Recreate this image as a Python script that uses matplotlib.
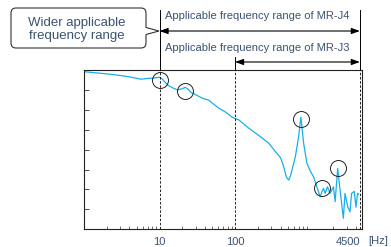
import numpy as np
import matplotlib
matplotlib.use("Agg")
import matplotlib.pyplot as plt
from matplotlib.path import Path
import matplotlib.patches as mpatches
import matplotlib.transforms as mtrans

# frequency response curve
freq = [1, 2, 3, 4, 5.7, 7, 8.5, 10, 11, 12.8, 15, 17.4, 20, 22, 24, 26, 30, 37, 45, 52, 61.6,
        75, 92, 113, 153, 210, 280, 343, 400, 441, 480, 514, 545, 568, 629, 695, 745, 809,
        894, 1000, 1094, 1210, 1342, 1420, 1483, 1561, 1674, 1816, 2008, 2115, 2288, 2459,
        2718, 2862, 3098, 3329, 3494, 3790, 3993, 4190, 4300]
gain = [7.94, 7.83, 7.75, 7.68, 7.56, 7.6, 7.62, 7.66, 7.55, 7.27, 7.12, 7.02, 7.08, 7.15, 7.05,
        6.9, 6.78, 6.6, 6.5, 6.3, 6.09, 5.9, 5.64, 5.5, 5.08, 4.7, 4.33, 3.9, 3.6, 3.15, 2.6,
        2.47, 2.7, 2.98, 3.65, 4.66, 5.64, 4.34, 3.32, 2.9, 2.64, 2.13, 1.63, 1.9, 2.05, 1.8,
        2.13, 1.8, 2.13, 1.38, 3.06, 1.97, 0.54, 1.8, 1.13, 0.87, 1.8, 1.9, 1.1, 1.8, 1.75]

# circled resonance points
circ_freq = [10, 22, 745, 1409, 2285]
circ_gain = [7.53, 6.97, 5.54, 2.06, 3.07]

tick_freq = [10, 100, 4500]
tick_labels = ["10", "100", "4500"]
j4_range = [10, 4500]
j3_range = [100, 4500]

txt_col = "#3a5272"
line_col = "#1aaee8"

fig = plt.figure(figsize=(3.91, 2.47), dpi=100)
W, H = 391, 247
ax = fig.add_axes([84 / W, 1 - 229 / H, 278 / W, 158.5 / H])
ax.set_xscale("log")
ax.set_xlim(1, 4800)
ax.set_ylim(0, 8)

ax.plot(freq, gain, color=line_col, lw=0.9)
ax.plot(circ_freq, circ_gain, "o", ms=11.5, mfc="none", mec="#222222", mew=0.7)

for f in tick_freq:
    ax.axvline(f, color="k", ls=(0, (3, 2)), lw=0.6)

ax.set_yticks(range(1, 8))
ax.set_yticklabels([])
ax.tick_params(axis="y", direction="in", length=3.5, width=0.6, color="#333333")
ax.set_xticks(tick_freq)
ax.set_xticklabels(tick_labels, fontsize=8, color=txt_col, family="Liberation Sans")
ax.get_xticklabels()[-1].set_horizontalalignment("right")
ax.tick_params(axis="x", which="major", direction="in", length=0, pad=6)
ax.tick_params(axis="x", which="minor", direction="in", length=2.5, width=0.5, color="#333333")
ax.xaxis.set_minor_formatter(plt.NullFormatter())
for s in ax.spines.values():
    s.set_linewidth(0.8)
    s.set_color("#222222")
ax.text((368 - 84) / 278, -0.045, "[Hz]", transform=ax.transAxes, fontsize=8, color=txt_col,
        family="Liberation Sans", va="top", ha="left", clip_on=False)

# range lines and arrows above the plot
tr = mtrans.blended_transform_factory(ax.transData, ax.transAxes)
top_y = (229 - 10) / 158.5
ax.plot([j4_range[0]] * 2, [1, top_y], color="k", lw=0.7, transform=tr, clip_on=False)
ax.plot([j4_range[1]] * 2, [1, top_y], color="k", lw=0.7, transform=tr, clip_on=False)
ax.plot([j3_range[0]] * 2, [1, (229 - 57) / 158.5], color="k", lw=0.7, transform=tr, clip_on=False)

arr = dict(arrowstyle="<|-|>,head_length=0.5,head_width=0.18", color="k", lw=0.8,
           shrinkA=0, shrinkB=0)
ax.annotate("", xy=(j4_range[0], (229 - 31) / 158.5), xytext=(j4_range[1], (229 - 31) / 158.5),
            xycoords=tr, textcoords=tr, arrowprops=arr, annotation_clip=False)
ax.annotate("", xy=(j3_range[0], (229 - 62) / 158.5), xytext=(j3_range[1], (229 - 62) / 158.5),
            xycoords=tr, textcoords=tr, arrowprops=arr, annotation_clip=False)

fig.text(165 / W, 1 - 16 / H, "Applicable frequency range of MR-J4", fontsize=8.05,
         color=txt_col, family="Liberation Sans", va="center", ha="left")
fig.text(165 / W, 1 - 48 / H, "Applicable frequency range of MR-J3", fontsize=8.05,
         color=txt_col, family="Liberation Sans", va="center", ha="left")

# callout box with pointer
L, R, T, B, r = 11, 146, 8, 48, 5
pts = [(L + r, T), (R - r, T), (R, T), (R, T + r), (R, 27.5), (159, 31), (R, 34.5),
       (R, B - r), (R, B), (R - r, B), (L + r, B), (L, B), (L, B - r), (L, T + r), (L, T),
       (L + r, T), (L + r, T)]
codes = [Path.MOVETO, Path.LINETO, Path.CURVE3, Path.CURVE3, Path.LINETO, Path.LINETO,
         Path.LINETO, Path.LINETO, Path.CURVE3, Path.CURVE3, Path.LINETO, Path.CURVE3,
         Path.CURVE3, Path.LINETO, Path.CURVE3, Path.CURVE3, Path.CLOSEPOLY]
verts = [(x / W, 1 - y / H) for x, y in pts]
fig.patches.append(mpatches.PathPatch(Path(verts, codes), transform=fig.transFigure,
                                      fc="white", ec="#333333", lw=0.8))
fig.text(77 / W, 1 - 29.5 / H, "Wider applicable\nfrequency range", fontsize=9.5,
         color=txt_col, family="Liberation Sans", va="center", ha="center", linespacing=1.1)

fig.savefig("out.png", dpi=100)
